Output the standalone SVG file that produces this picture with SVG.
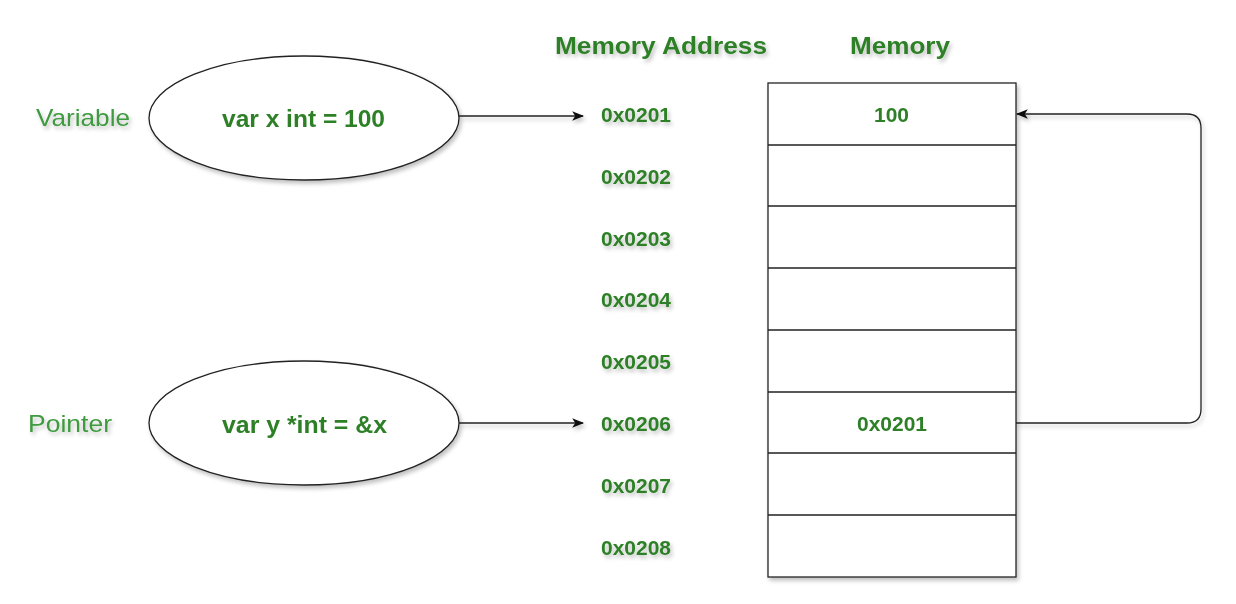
<svg xmlns="http://www.w3.org/2000/svg" width="1236" height="604" viewBox="0 0 1236 604">
<style>
.lbl{font-family:"Liberation Sans",Arial,sans-serif;font-size:24px;fill:#3f9a3f;dominant-baseline:central}
.code{font-family:"Liberation Sans",Arial,sans-serif;font-size:24px;font-weight:bold;fill:#2e8028;dominant-baseline:central}
.hdr{font-family:"Liberation Sans",Arial,sans-serif;font-size:24px;font-weight:bold;fill:#2e8028;dominant-baseline:central}
.addr{font-family:"Liberation Sans",Arial,sans-serif;font-size:20px;font-weight:bold;fill:#2e8028;dominant-baseline:central}
.shape{fill:#fff;stroke:#222;stroke-width:1.3}
.conn{fill:none;stroke:#222;stroke-width:1.3}
</style>
<defs>
<filter id="sh" x="-10%" y="-10%" width="130%" height="140%">
<feGaussianBlur in="SourceAlpha" stdDeviation="2"/>
<feOffset dx="2" dy="3"/>
<feComponentTransfer><feFuncA type="linear" slope="0.25"/></feComponentTransfer>
<feMerge><feMergeNode/><feMergeNode in="SourceGraphic"/></feMerge>
</filter>
<marker id="arr" viewBox="0 0 10 10" refX="9" refY="5" markerWidth="12" markerHeight="12" markerUnits="userSpaceOnUse" orient="auto">
<path d="M0,1 L10,5 L0,9 L2.5,5 Z" fill="#111"/>
</marker>
</defs>
<rect width="1236" height="604" fill="#fff"/>

<g id="labels" filter="url(#sh)">
<text class="lbl" x="36" y="117" textLength="94" lengthAdjust="spacingAndGlyphs">Variable</text>
<text class="lbl" x="28" y="423" textLength="84" lengthAdjust="spacingAndGlyphs">Pointer</text>
<text class="hdr" x="555" y="45" textLength="212" lengthAdjust="spacingAndGlyphs">Memory Address</text>
<text class="hdr" x="850" y="45" textLength="100" lengthAdjust="spacingAndGlyphs">Memory</text>
</g>

<g id="node-var-x" filter="url(#sh)">
<ellipse class="shape" cx="304" cy="118" rx="155" ry="62"/>
<text class="code" x="222" y="118" textLength="163" lengthAdjust="spacingAndGlyphs">var x int = 100</text>
</g>
<g id="node-var-y" filter="url(#sh)">
<ellipse class="shape" cx="304" cy="423" rx="155" ry="62"/>
<text class="code" x="222" y="424" textLength="165" lengthAdjust="spacingAndGlyphs">var y *int = &amp;x</text>
</g>

<g id="addresses" filter="url(#sh)">
<text class="addr" x="601" y="115" textLength="70" lengthAdjust="spacingAndGlyphs">0x0201</text>
<text class="addr" x="601" y="177" textLength="70" lengthAdjust="spacingAndGlyphs">0x0202</text>
<text class="addr" x="601" y="239" textLength="70" lengthAdjust="spacingAndGlyphs">0x0203</text>
<text class="addr" x="601" y="300" textLength="70" lengthAdjust="spacingAndGlyphs">0x0204</text>
<text class="addr" x="601" y="362" textLength="70" lengthAdjust="spacingAndGlyphs">0x0205</text>
<text class="addr" x="601" y="424" textLength="70" lengthAdjust="spacingAndGlyphs">0x0206</text>
<text class="addr" x="601" y="486" textLength="70" lengthAdjust="spacingAndGlyphs">0x0207</text>
<text class="addr" x="601" y="548" textLength="70" lengthAdjust="spacingAndGlyphs">0x0208</text>
</g>

<g id="memory" filter="url(#sh)">
<rect class="shape" x="768" y="83" width="248" height="494"/>
<g class="conn">
<line x1="768" y1="145" x2="1016" y2="145"/>
<line x1="768" y1="206" x2="1016" y2="206"/>
<line x1="768" y1="268" x2="1016" y2="268"/>
<line x1="768" y1="330" x2="1016" y2="330"/>
<line x1="768" y1="392" x2="1016" y2="392"/>
<line x1="768" y1="453" x2="1016" y2="453"/>
<line x1="768" y1="515" x2="1016" y2="515"/>
</g>
<text class="addr" x="874" y="115" textLength="35" lengthAdjust="spacingAndGlyphs">100</text>
<text class="addr" x="857" y="424" textLength="70" lengthAdjust="spacingAndGlyphs">0x0201</text>
</g>

<g id="connectors" filter="url(#sh)">
<line class="conn" x1="459" y1="116" x2="583" y2="116" marker-end="url(#arr)"/>
<line class="conn" x1="459" y1="423" x2="583" y2="423" marker-end="url(#arr)"/>
<path class="conn" d="M1016 423 H1187 Q1201 423 1201 409 V128 Q1201 114 1187 114 H1017" marker-end="url(#arr)"/>
</g>
</svg>
